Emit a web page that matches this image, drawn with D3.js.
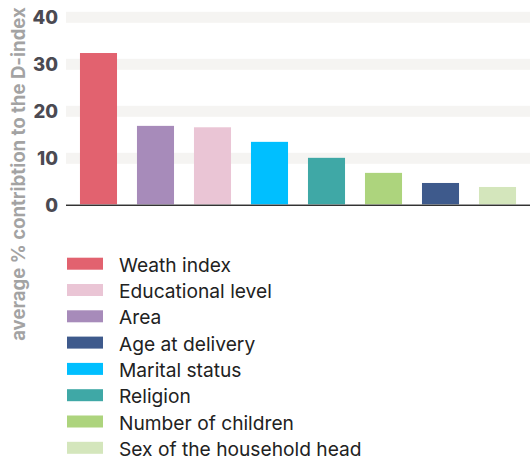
<!DOCTYPE html>
<html>
<head>
<meta charset="utf-8">
<script src="https://cdn.jsdelivr.net/npm/d3@7"></script>
<style>
  html, body { margin: 0; padding: 0; background: #fff; }
  svg { display: block; }
</style>
</head>
<body>
<svg id="chart" width="530" height="464"></svg>
<script>
// Contribution of each factor to the D-index (bar order)
const categories = ["Weath index", "Area", "Educational level", "Marital status",
  "Religion", "Number of children", "Age at delivery", "Sex of the household head"];
const values = [32.4, 16.9, 16.6, 13.5, 10.1, 6.9, 4.75, 3.9];
const colors = ["#e2626f", "#a78bba", "#eac5d5", "#00bfff",
  "#3fa8a6", "#add47d", "#3e5a8c", "#d4e6bc"];
// Legend order
const legendOrder = ["Weath index", "Educational level", "Area", "Age at delivery",
  "Marital status", "Religion", "Number of children", "Sex of the household head"];
const yTicks = [0, 10, 20, 30, 40];
const yTitle = "average % contribtion to the D-index";

const svg = d3.select("#chart");
const colorOf = d3.scaleOrdinal().domain(categories).range(colors);

const x = d3.scaleBand().domain(categories).range([66, 530])
  .paddingInner(0.35).paddingOuter(0.245);
const y = d3.scaleLinear().domain([0, 40]).range([205.3, 17.3]);

// Gridline bands
svg.append("g").selectAll("rect")
  .data(yTicks.filter(d => d > 0))
  .join("rect")
  .attr("x", 66).attr("width", 464)
  .attr("y", d => y(d) - 5.5).attr("height", 11)
  .attr("fill", "#f5f4f2");

// Y axis tick labels
const yAxis = d3.axisLeft(y).tickValues(yTicks).tickSize(0).tickPadding(0);
const ya = svg.append("g").attr("transform", "translate(58,0)").call(yAxis);
ya.select(".domain").remove();
ya.selectAll("text")
  .attr("font-family", "Inter, 'Noto Sans', sans-serif")
  .attr("font-weight", 800)
  .attr("font-size", 18.5)
  .attr("fill", "#4b4a52")
  .attr("dy", "0.36em");

// Bars
svg.append("g").selectAll("rect")
  .data(values)
  .join("rect")
  .attr("x", (d, i) => x(categories[i]))
  .attr("width", x.bandwidth())
  .attr("y", d => y(d))
  .attr("height", d => y(0) - y(d))
  .attr("fill", (d, i) => colors[i]);

// Baseline
svg.append("line")
  .attr("x1", 66).attr("x2", 530)
  .attr("y1", y(0) - 0.6).attr("y2", y(0) - 0.6)
  .attr("stroke", "#8a8a8a").attr("stroke-width", 1);
svg.append("line")
  .attr("x1", 66).attr("x2", 530)
  .attr("y1", y(0) + 0.2).attr("y2", y(0) + 0.2)
  .attr("stroke", "#333").attr("stroke-width", 1.2);

// Y axis title
svg.append("text")
  .attr("transform", "translate(25,174) rotate(-90)")
  .attr("text-anchor", "middle")
  .attr("font-family", "Inter, 'Noto Sans', sans-serif")
  .attr("font-weight", 700)
  .attr("font-size", 18.6)
  .attr("fill", "#a3a3a3")
  .text(yTitle);

// Legend
const legend = svg.append("g").attr("transform", "translate(67,257.7)");
const rows = legend.selectAll("g")
  .data(legendOrder)
  .join("g")
  .attr("transform", (d, i) => `translate(0,${i * 26.3})`);
rows.append("rect")
  .attr("width", 36).attr("height", 12)
  .attr("fill", d => colorOf(d));
rows.append("text")
  .attr("x", 52).attr("y", 14)
  .attr("font-family", "Inter, 'Noto Sans', sans-serif")
  .attr("font-size", 19.2)
  .attr("fill", "#222")
  .text(d => d);
</script>
</body>
</html>
